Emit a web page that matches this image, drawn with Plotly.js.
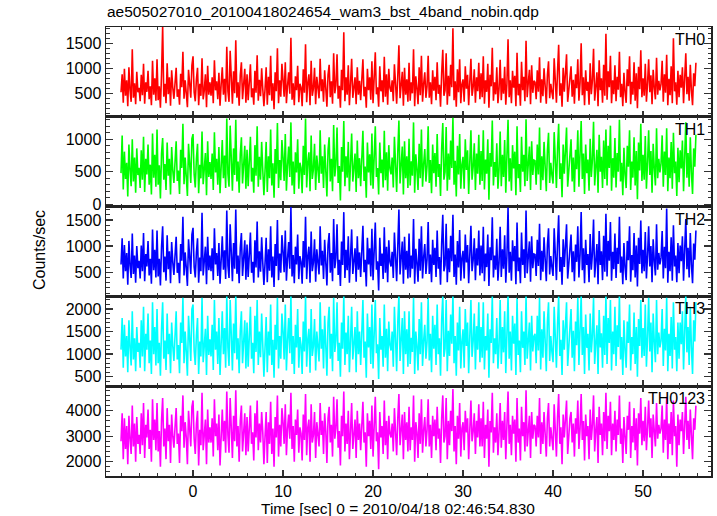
<!DOCTYPE html>
<html><head><meta charset="utf-8">
<script src="https://cdn.plot.ly/plotly-3.0.1.min.js"></script>
<style>html,body{margin:0;padding:0;background:#fff}</style>
</head><body><div id="plot" style="width:717px;height:516px"></div>
<script>
const T_START = -8, BIN = 0.125;
const bandNames = ["TH0","TH1","TH2","TH3","TH0123"];
const TH0 = [520,880,310,990,450,760,240,1020,560,330,1380,410,700,280,930,520,
610,340,870,460,1090,290,720,530,950,380,640,260,1150,470,800,350,
1180,360,640,210,870,1850,430,690,300,1100,480,820,250,960,610,390,
700,1010,430,580,270,890,620,1330,390,760,500,220,970,650,410,1060,
1240,520,340,780,1010,260,690,450,1200,380,560,880,220,1050,470,720,
450,820,300,1160,560,740,380,910,250,680,1020,470,790,330,1430,540,
330,1350,610,290,940,500,1560,410,720,250,860,1120,380,640,990,310,
880,360,700,1080,420,600,270,950,510,1260,350,770,440,1000,580,240,
580,1020,270,830,460,1250,350,700,180,920,540,1400,300,760,430,1090,
760,430,1120,300,650,920,490,1610,370,700,260,840,560,1050,320,690,
620,240,980,510,1480,320,710,880,260,1150,450,600,1010,280,830,540,
400,1190,540,780,330,960,600,230,870,1070,420,740,290,1300,500,660,
1280,390,650,210,970,560,1720,340,820,470,1060,260,700,1190,410,580,
820,280,1020,470,750,360,900,1180,440,630,210,990,560,820,370,1140,
300,900,1320,480,620,230,1040,540,760,320,1230,430,880,270,990,610,
530,760,340,1080,620,290,850,1460,400,690,930,250,1010,470,780,330,
1110,350,720,500,1380,240,840,600,280,1020,460,1250,330,690,920,410,
640,1250,410,720,280,960,550,830,360,1120,490,670,230,900,1370,450,
560,1300,270,850,440,1070,620,1800,360,740,230,980,520,1180,300,680,
780,330,1040,590,870,260,710,1190,450,630,980,310,820,540,1110,380,
900,420,1240,290,760,530,1090,210,870,640,1410,350,720,480,1020,300,
590,1170,360,800,490,1030,270,690,1580,420,760,300,950,610,850,240,
1310,460,690,250,1130,560,830,340,1550,420,710,970,280,1060,510,750,
720,380,960,530,1220,310,780,440,1000,620,290,870,1140,400,690,520,
380,1200,600,310,940,1470,450,700,230,1010,530,860,1280,330,620,890,
1040,430,770,290,880,600,1180,350,710,1500,460,820,260,960,550,730,
270,1100,480,760,1390,350,640,920,240,1160,560,800,310,1070,450,1690,
370,940,620,1250,300,760,480,1060,340,830,570,1330,420,690,240,910,
520,310,980,640,1240,280,730,470,1120,350,900,200,1030,580,1360,420,
800,450,1090,330,700,1180,520,860,280,970,610,380,1210,470,750,560,
690,1150,330,880,510,1270,260,790,460,1040,300,1600,540,720,270,950,
420,870,610,1020,300,740,1300,480,830,350,1070,560,260,900,640,1110];
const TH1 = [480,1060,230,810,390,640,120,920,530,280,1000,350,720,180,860,450,
560,250,830,380,1040,190,700,460,920,300,610,150,1090,410,760,270,
1150,300,600,90,780,1020,380,620,220,950,440,700,150,880,520,330,
650,970,360,520,160,840,560,1240,310,720,420,130,930,590,330,1010,
1080,460,260,700,930,170,610,400,1120,310,500,790,140,970,420,650,
390,780,220,1110,490,700,300,880,170,630,990,400,750,250,1320,470,
270,1210,540,210,860,450,1300,350,660,180,770,1030,320,580,900,240,
840,280,650,1040,350,560,180,910,440,1200,270,730,380,960,520,140,
520,960,190,740,400,1150,290,630,100,850,470,1250,250,680,370,990,
710,360,1080,210,600,890,420,1260,290,660,160,800,490,1000,240,640,
560,170,900,450,1320,260,650,800,200,1060,390,540,930,220,750,480,
330,1140,470,740,250,920,540,120,830,1030,350,700,200,1220,430,610,
1180,330,590,60,880,500,1280,280,740,410,960,200,630,1090,350,520,
780,190,980,400,710,280,860,1130,360,580,100,950,490,770,290,1090,
240,820,1200,420,560,150,950,480,690,260,1130,370,800,210,910,550,
460,720,260,1040,560,190,810,1290,320,640,890,150,970,400,740,250,
1010,290,660,440,1260,180,770,540,220,930,400,1150,270,620,850,350,
590,1200,330,680,170,920,480,790,270,1080,420,620,130,860,1250,380,
500,1190,210,780,380,980,560,1330,300,670,120,900,460,1080,240,610,
730,240,1000,530,830,160,660,1140,380,580,940,220,780,470,1070,300,
820,360,1140,230,690,470,1000,70,790,580,1290,290,650,420,940,240,
540,1120,280,760,420,990,180,640,1300,350,710,210,910,550,810,140,
1200,400,620,190,1040,500,760,280,1310,360,640,890,220,970,450,680,
670,300,920,460,1180,220,740,370,960,560,200,830,1100,330,640,450,
320,1110,540,250,860,1240,390,630,110,920,470,790,1180,270,560,820,
1000,350,720,190,840,540,1140,270,660,1280,390,780,160,920,480,690,
210,1010,420,690,1270,290,580,840,180,1070,500,730,250,980,390,1150,
290,900,560,1210,210,710,410,1020,260,790,500,1300,350,640,140,870,
460,250,900,580,1140,220,660,410,1030,290,820,80,950,520,1240,360,
760,380,1050,240,650,1140,450,820,180,930,550,290,1170,400,700,490,
630,1060,270,810,450,1170,200,720,400,960,240,1100,480,660,130,870,
340,830,550,980,200,690,1260,410,790,270,1030,490,160,860,580,1070];
const TH2 = [650,1150,380,1020,520,870,260,1100,630,390,1240,470,820,300,1000,580,
720,380,1010,520,1250,330,850,610,1100,440,760,280,1320,540,930,400,
1300,420,760,250,980,1380,500,800,340,1210,560,900,290,1080,690,450,
820,1180,490,680,290,1040,720,1560,440,880,580,240,1130,760,470,1220,
1350,600,400,880,1150,300,780,520,1640,440,650,990,270,1180,540,820,
520,960,350,1340,650,870,430,1060,280,800,1190,550,920,370,1680,630,
390,1420,700,330,1060,570,1700,470,820,290,970,1250,430,730,1110,360,
1030,410,830,1260,490,700,300,1110,590,1470,400,900,510,1170,680,260,
670,1160,310,940,530,1380,400,800,220,1040,620,1500,350,860,490,1210,
890,500,1300,340,760,1080,570,1750,420,830,290,990,650,1220,370,810,
700,280,1100,590,1560,370,810,990,300,1280,520,690,1130,320,940,620,
460,1380,630,910,370,1120,700,250,1020,1250,490,870,330,1520,580,770,
1420,450,740,240,1090,640,1650,390,930,540,1190,300,800,1320,470,660,
960,320,1190,550,880,410,1050,1390,500,740,230,1160,650,960,420,1330,
350,1010,1450,550,710,150,1160,620,860,370,1360,490,990,310,1110,700,
610,890,390,1260,720,330,1000,1700,460,810,1090,280,1180,550,910,380,
1240,400,820,570,1520,280,950,680,320,1140,530,1380,380,790,1040,470,
750,1460,470,840,310,1120,640,970,410,1300,570,790,260,1050,1600,520,
640,1430,310,960,500,1200,710,1600,410,840,260,1100,590,1310,340,770,
910,380,1220,690,1020,290,830,1390,520,740,1150,350,960,630,1300,440,
1010,480,1370,330,860,600,1220,240,980,730,1550,400,820,550,1140,340,
690,1370,410,940,570,1210,300,810,1740,490,890,340,1110,710,1000,270,
1450,520,780,290,1260,640,940,390,1680,480,800,1090,320,1190,580,850,
840,430,1120,620,1430,350,910,510,1170,720,330,1020,1340,460,810,600,
430,1340,680,350,1060,1590,510,790,260,1130,600,970,1420,380,700,1000,
1220,500,900,330,1030,700,1380,400,830,1650,540,960,290,1120,640,850,
310,1230,550,860,1510,400,730,1040,270,1290,640,900,350,1200,510,1620,
420,1100,720,1460,340,890,560,1240,390,970,660,1560,490,800,270,1060,
590,350,1100,730,1380,320,830,540,1250,400,1010,230,1160,660,1490,480,
930,520,1270,380,820,1380,610,1000,310,1130,710,440,1420,550,870,650,
780,1290,380,990,580,1720,300,890,520,1170,340,1400,610,820,310,1060,
480,1010,710,1190,340,860,1520,560,970,400,1250,650,290,1050,740,1300];
const TH3 = [1100,1800,700,1650,950,1400,600,1750,1150,750,1950,880,1350,620,1600,1050,
1250,700,1750,950,2050,620,1450,1100,1900,800,1300,560,2150,1000,1600,750,
2000,800,1250,520,1550,2150,900,1300,650,1900,1000,1450,580,1700,1180,850,
1400,1950,880,1200,580,1700,1250,2250,800,1500,1050,520,1850,1300,850,2000,
2100,1080,760,1420,1800,560,1280,950,2250,820,1100,1560,540,1850,980,1330,
950,1650,650,2200,1100,1500,780,1800,540,1350,1950,1000,1580,700,2300,1150,
740,2200,1200,640,1680,1020,2300,880,1350,580,1520,1950,800,1230,1750,680,
1700,720,1400,2050,900,1250,580,1850,1050,2200,760,1500,930,1900,1200,500,
1150,1820,600,1500,970,2100,760,1320,480,1650,1100,2250,680,1400,900,1900,
1500,880,2100,640,1300,1800,1020,2300,780,1400,560,1650,1150,2000,700,1380,
1200,560,1720,1060,2280,720,1330,1560,590,2000,960,1180,1780,640,1500,1100,
840,2150,1120,1550,680,1850,1220,520,1700,2050,900,1450,620,2250,1050,1300,
2150,850,1250,500,1700,1120,2300,760,1480,1000,1850,600,1320,2050,880,1150,
1600,600,1950,1000,1500,760,1750,2200,920,1280,480,1900,1150,1600,780,2100,
680,1600,2200,1020,1220,450,1800,1100,1400,720,2100,920,1560,620,1720,1200,
1080,1500,720,2050,1250,620,1700,2300,850,1380,1800,560,1950,1000,1550,720,
1950,780,1360,1050,2250,560,1500,1180,640,1780,1000,2150,740,1300,1650,900,
1280,2250,860,1450,600,1850,1120,1650,760,2100,1000,1350,520,1750,2300,940,
1120,2200,620,1520,960,1880,1230,2320,800,1400,520,1700,1080,2050,680,1280,
1550,700,2000,1180,1700,580,1420,2200,940,1300,1900,660,1620,1100,2150,820,
1600,920,2150,660,1400,1080,1900,480,1550,1250,2300,800,1350,1000,1800,680,
1200,2200,780,1600,1040,1950,580,1380,2300,900,1500,640,1850,1230,1680,540,
2250,980,1300,600,1950,1140,1500,760,2300,900,1330,1700,640,1850,1060,1400,
1450,800,1850,1080,2250,660,1550,920,1950,1250,620,1720,2150,850,1400,1050,
820,2050,1200,700,1650,2280,960,1320,540,1750,1100,1520,2150,740,1250,1600,
2000,920,1520,620,1720,1200,2250,760,1380,2300,980,1600,560,1880,1140,1450,
640,1900,1040,1420,2250,780,1260,1640,560,1980,1150,1460,700,1850,980,2300,
780,1800,1250,2200,640,1500,1000,2050,740,1640,1160,2300,880,1380,540,1750,
1100,700,1720,1250,2100,640,1380,1000,1920,780,1600,500,1780,1180,2200,920,
1580,960,2100,720,1380,2250,1060,1700,600,1900,1260,820,2200,1000,1480,1150,
1300,2000,740,1560,1080,2250,620,1450,960,1820,680,2150,1100,1380,620,1700,
900,1700,1220,1950,660,1450,2300,1040,1600,760,2050,1150,560,1750,1280,2150];
const TH0123 = [2800,3900,2100,3700,2500,3400,1900,3800,2900,2300,4200,2600,3500,2000,3750,2700,
3050,2300,3900,2650,4300,2150,3450,2950,4050,2500,3250,2000,4450,2850,3650,2450,
4300,2400,3200,1800,3600,4500,2600,3300,2100,4100,2800,3450,1950,3850,3000,2550,
3350,4100,2700,3100,1950,3800,3200,4600,2550,3550,2950,1900,4000,3300,2600,4150,
4400,2900,2300,3500,4000,1850,3250,2650,4700,2450,2950,3650,1900,4050,2750,3350,
2750,3700,2200,4450,3000,3500,2450,3850,1850,3300,4050,2800,3600,2350,4750,3050,
2350,4500,3100,2150,3800,2800,4800,2600,3400,2000,3600,4200,2400,3150,3900,2250,
3750,2400,3350,4200,2700,3150,2050,3900,2950,4400,2450,3500,2750,3950,3150,1900,
3000,3950,1950,3550,2700,4350,2300,3300,1800,3750,2950,4600,2200,3450,2600,4100,
3550,2700,4250,2250,3300,3850,2900,4700,2500,3400,2000,3650,3050,4050,2350,3350,
3100,2050,3850,2850,4650,2250,3350,3650,2000,4250,2750,3050,3950,2150,3550,2900,
2600,4300,3050,3600,2300,3900,3200,1950,3700,4150,2750,3450,2200,4550,2900,3300,
4450,2550,3200,1850,3800,3000,4750,2400,3500,2700,4000,2100,3300,4300,2500,3050,
3650,2150,4000,2850,3500,2450,3750,4350,2750,3150,1800,3900,3000,3600,2500,4200,
2200,3700,4550,2800,3150,1700,3950,2950,3400,2300,4400,2650,3600,2100,3800,3100,
2950,3500,2400,4100,3200,2250,3700,4650,2650,3350,3850,2100,3950,2850,3550,2400,
4150,2450,3350,2850,4600,2000,3550,3150,2150,3900,2700,4450,2350,3250,3750,2600,
3250,4450,2600,3450,2150,3800,3000,3650,2450,4150,2900,3300,1950,3700,4600,2750,
3000,4500,2100,3600,2650,4000,3200,4850,2400,3400,1900,3800,2900,4300,2200,3300,
3550,2450,4000,3150,3700,2100,3350,4400,2800,3200,3900,2300,3600,2950,4250,2600,
3700,2600,4350,2150,3450,2900,4050,1800,3600,3150,4700,2350,3350,2750,3900,2250,
3150,4300,2550,3600,2850,3950,2100,3300,4750,2700,3450,2250,3800,3100,3650,2000,
4500,2750,3300,2050,4150,3000,3550,2400,4800,2600,3350,3800,2150,3950,2900,3450,
3400,2600,3800,2950,4500,2300,3550,2700,3950,3200,2200,3700,4300,2600,3350,2900,
2450,4250,3100,2200,3750,4650,2700,3350,1900,3850,2950,3550,4400,2300,3200,3700,
3950,2750,3500,2200,3700,3100,4400,2500,3300,4650,2850,3600,2050,3850,3000,3400,
2100,4050,2850,3450,4600,2400,3250,3750,1950,4150,3050,3500,2250,3950,2800,4700,
2500,3800,3200,4350,2250,3500,2850,4000,2400,3650,3050,4600,2700,3300,1950,3750,
3000,2300,3800,3250,4350,2150,3400,2750,4100,2450,3700,1850,3900,3100,4500,2650,
3600,2800,4150,2450,3350,4400,2950,3700,2150,3850,3200,2600,4300,2900,3450,3100,
3300,4200,2350,3650,2850,4550,2100,3500,2700,3950,2250,4400,3000,3400,1800,3850,
2650,3650,3200,3950,2300,3450,4550,2850,3600,2500,4050,3050,2100,3700,3250,4200];
const series = [TH0, TH1, TH2, TH3, TH0123];
const colors = ["#ff0000","#00ff00","#0000ff","#00ffff","#ff00ff"];
const yRanges = [[30,1826],[-35,1346],[39,1756],[290,2279],[1439,4961]];
const yDticks = [500,500,500,500,1000];
const yMinor = [100,100,100,100,200];
const xRange = [-9.67, 57.55];

const time = TH0.map((_, i) => T_START + i * BIN);
const FONT = "Liberation Sans, Arial, Helvetica, sans-serif";
const traces = [];
const layout = {
  width: 717, height: 516,
  margin: {l: 106, r: 6, t: 27, b: 40},
  paper_bgcolor: "#fff", plot_bgcolor: "#fff",
  showlegend: false,
  font: {family: FONT, size: 16, color: "#000"},
  title: {text: "ae505027010_20100418024654_wam3_bst_4band_nobin.qdp",
    x: 107/717, xref: "container", xanchor: "left",
    y: 1 - 12/516, yref: "container", yanchor: "middle",
    font: {family: FONT, size: 15.5, color: "#000"}},
  annotations: []
};
const n = series.length;
for (let k = 0; k < n; k++) {
  const id = k === 0 ? "" : String(k + 1);
  traces.push({x: time, y: series[k], type: "scatter", mode: "lines",
    xaxis: "x" + id, yaxis: "y" + id,
    line: {color: colors[k], width: 1.6}, hoverinfo: "skip"});
  const top = 1 - k / n, bot = 1 - (k + 1) / n;
  layout["yaxis" + id] = {
    domain: [bot, top], range: yRanges[k], dtick: yDticks[k], tick0: 0,
    ticks: "inside", ticklen: 7, tickwidth: 1.3, tickcolor: "#333",
    showline: true, linecolor: "#222", linewidth: 1.5, mirror: "ticks",
    showgrid: false, zeroline: false, anchor: "x" + id,
    minor: {dtick: yMinor[k], ticks: "inside", ticklen: 3.5, tickcolor: "#333", tickwidth: 1},
    tickfont: {family: FONT, size: 16, color: "#000"}, fixedrange: true
  };
  layout["xaxis" + id] = {
    range: xRange, dtick: 10, tick0: 0, anchor: "y" + id,
    ticks: "inside", ticklen: 6, tickwidth: 1.3, tickcolor: "#333",
    showline: true, linecolor: "#222", linewidth: 1.5, mirror: "ticks",
    showgrid: false, zeroline: false,
    minor: {dtick: 2, ticks: "inside", ticklen: 3, tickcolor: "#333", tickwidth: 1},
    showticklabels: k === n - 1,
    tickfont: {family: FONT, size: 16, color: "#000"}, fixedrange: true
  };
  if (k > 0) layout["xaxis" + id].matches = "x";
  layout.annotations.push({text: bandNames[k], xref: "paper", yref: "paper",
    x: 1, y: top, xanchor: "right", yanchor: "top", xshift: -4, yshift: -2,
    showarrow: false, font: {family: FONT, size: 16, color: "#000"}});
}
layout.annotations.push({text: "Counts/sec", xref: "paper", yref: "paper",
  x: (40 - 106) / 605, y: (476 - 250) / 449, xanchor: "center", yanchor: "middle",
  textangle: -90, showarrow: false, font: {family: FONT, size: 16, color: "#000"}});
layout.annotations.push({text: "Time [sec] 0 = 2010/04/18 02:46:54.830", xref: "paper", yref: "paper",
  x: (397.5 - 106) / 605, y: (476 - 508.5) / 449, xanchor: "center", yanchor: "middle",
  showarrow: false, font: {family: FONT, size: 15.5, color: "#000"}});
Plotly.newPlot("plot", traces, layout, {staticPlot: true, displayModeBar: false});
</script></body></html>
